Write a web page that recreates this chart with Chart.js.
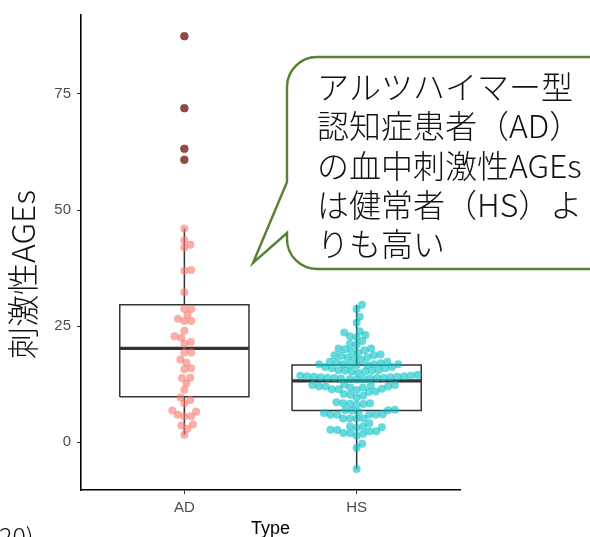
<!DOCTYPE html>
<html>
<head>
<meta charset="utf-8">
<script src="https://cdn.jsdelivr.net/npm/chart.js@4.4.1/dist/chart.umd.min.js"></script>
<style>
  html, body { margin: 0; background: #fff; }
  #wrap { width: 590px; height: 537px; position: relative; }
</style>
</head>
<body>
<div id="wrap"><canvas id="chart"></canvas></div>
<script>
const categories = ['AD', 'HS'];

// one value per dot
const adValues = [
  87.4, 71.9, 63.2, 60.8,
  46.0, 43.5, 42.5, 41.9, 37.1, 36.9, 32.3, 28.7, 28.7, 27.4, 26.6, 26.1, 26.1,
  24.0, 22.8, 22.5, 21.6, 21.2, 19.3, 19.3, 17.8, 17.1, 15.9, 15.7, 13.9, 13.8,
  12.7, 11.3, 9.6, 9.1, 8.4, 6.8, 6.6, 5.9, 5.6, 5.6, 3.8, 3.6, 2.9, 1.6
];
const hsValues = [
  29.6, 28.7, 27.0, 25.7, 23.9, 23.6, 23.1, 22.8, 22.6, 21.8, 21.2, 21.0,
  20.2, 20.2, 20.0, 19.8, 19.6, 19.2, 18.9, 18.7, 18.7, 18.6, 18.3, 18.2, 18.0,
  17.7, 17.3, 17.3, 17.2, 17.0, 16.8, 16.8, 16.8, 16.8, 16.6, 16.6, 16.6,
  16.2, 16.2, 15.9, 15.9, 15.5, 15.5, 15.4, 15.4, 15.2, 15.2, 14.9,
  14.5, 14.3, 14.3, 14.2, 14.2, 14.1, 14.1, 14.0, 14.0, 13.9, 13.9, 13.8, 13.8,
  13.7, 13.7, 13.6, 13.6, 13.5,
  12.4, 12.0, 11.4,
  12.3, 12.0, 11.75, 11.5, 11.25, 10.8, 10.0, 9.6, 10.4, 10.2, 10.9, 11.4, 11.75, 12.0, 12.2, 12.3,
  8.4, 8.2, 8.05, 8.6, 8.3, 8.4,
  6.9, 6.8, 6.9, 7.0, 6.3, 5.9, 5.9, 5.1, 5.1, 4.1, 5.1, 5.1, 5.9, 5.9, 6.0, 6.5,
  3.4, 3.1, 2.6, 2.0, 1.8, 1.4, 1.9, 2.35, 2.35, 2.7, 3.2, 3.4,
  -0.35, -1.2, -5.8
];

// box statistics as drawn
const boxQ1 = [9.8, 6.8];
const boxMedian = [20.2, 13.2];
const boxQ3 = [29.6, 16.6];
const whiskerLow = [1.6, -5.8];
const whiskerHigh = [46.0, 29.6];

const yTicks = [0, 25, 50, 75];
const yTitle = '刺激性AGEs';
const xTitle = 'Type';
const calloutLines = ['アルツハイマー型', '認知症患者（AD）', 'の血中刺激性AGEs', 'は健常者（HS）よ', 'りも高い'];
const cornerText = '20)';

const pointColors = ['rgba(248,118,109,0.6)', 'rgba(0,191,196,0.6)'];
const lineColor = '#333333';
const boxHalf = 0.375;
const dotRadius = 4;
const swarmGap = 6.8;
const jpFont = '"Noto Sans CJK JP", "Noto Sans", sans-serif';

function seg(points, width){
  return { type:'scatter', data:points, showLine:true, borderColor:lineColor, borderWidth:width,
    pointRadius:0, pointHoverRadius:0, order:2, borderJoinStyle:'miter', borderCapStyle:'butt' };
}

const datasets = [];
categories.forEach((c, i) => {
  const x = i + 1;
  datasets.push(seg([
    {x:x-boxHalf, y:boxQ1[i]}, {x:x+boxHalf, y:boxQ1[i]}, {x:x+boxHalf, y:boxQ3[i]},
    {x:x-boxHalf, y:boxQ3[i]}, {x:x-boxHalf, y:boxQ1[i]}
  ], 1.5));
  datasets.push(seg([{x:x-boxHalf, y:boxMedian[i]}, {x:x+boxHalf, y:boxMedian[i]}], 3.2));
  datasets.push(seg([{x, y:boxQ3[i]}, {x, y:whiskerHigh[i]}], 1.5));
  datasets.push(seg([{x, y:boxQ1[i]}, {x, y:whiskerLow[i]}], 1.5));
});

const groups = [adValues, hsValues];
groups.forEach((vals, i) => {
  const outl = vals.filter(v => v > whiskerHigh[i] || v < whiskerLow[i]).map(v => ({x:i+1, y:v}));
  datasets.push({ type:'scatter', data:outl, pointRadius:dotRadius, pointBorderWidth:0,
    pointBackgroundColor:'#000', order:1 });
});
const swarmStart = datasets.length;
groups.forEach((vals, i) => {
  datasets.push({ type:'scatter', data:vals.map(v => ({x:i+1, y:v})), pointRadius:dotRadius,
    pointBorderWidth:0, pointBackgroundColor:pointColors[i], order:0 });
});

// beeswarm "swarm" placement, ascending priority, in pixels
function swarm(vals, pys, gap){
  const idx = vals.map((v, i) => i).sort((a, b) => vals[a] - vals[b]);
  const placed = [];
  const out = new Array(vals.length);
  idx.forEach(i => {
    const y = pys[i];
    const near = placed.filter(p => Math.abs(p.y - y) < gap);
    const cands = [0];
    near.forEach(p => {
      const dx = Math.sqrt(gap*gap - (p.y - y)*(p.y - y));
      cands.push(p.x + dx, p.x - dx);
    });
    const ok = cands.filter(x => near.every(p => (p.x-x)*(p.x-x) + (p.y-y)*(p.y-y) >= gap*gap - 1e-6));
    let best = ok[0];
    ok.forEach(x => { if (Math.abs(x) < Math.abs(best) - 1e-9) best = x; });
    placed.push({x:best, y});
    out[i] = best;
  });
  return out;
}

const annotations = {
  id: 'annotations',
  afterDraw(chart){
    const ctx = chart.ctx, a = chart.chartArea;
    ctx.save();
    // y title
    ctx.save();
    ctx.translate(23, (a.top + a.bottom)/2 + 22);
    ctx.rotate(-Math.PI/2);
    ctx.font = '300 32px ' + jpFont;
    ctx.fillStyle = '#111';
    ctx.textAlign = 'center';
    ctx.textBaseline = 'middle';
    ctx.fillText(yTitle, 0, 0);
    ctx.restore();
    // x title
    ctx.font = '18px "Liberation Sans", Arial, sans-serif';
    ctx.fillStyle = '#000';
    ctx.textAlign = 'center';
    ctx.textBaseline = 'alphabetic';
    ctx.fillText(xTitle, (a.left + a.right)/2, a.bottom + 44);
    // cut-off corner text
    ctx.font = '300 25px ' + jpFont;
    ctx.fillStyle = '#111';
    ctx.textAlign = 'left';
    ctx.fillText(cornerText, -1, 546);
    // speech bubble
    const L = 287, T = 57, B = 269, R = 640, r = 30;
    ctx.beginPath();
    ctx.moveTo(R, T);
    ctx.lineTo(L + r, T);
    ctx.arcTo(L, T, L, T + r, r);
    ctx.lineTo(L, 182);
    ctx.lineTo(253, 263);
    ctx.lineTo(L, 233);
    ctx.lineTo(L, B - r);
    ctx.arcTo(L, B, L + r, B, r);
    ctx.lineTo(R, B);
    ctx.closePath();
    ctx.fillStyle = '#fff';
    ctx.fill();
    ctx.strokeStyle = '#548235';
    ctx.lineWidth = 2.4;
    ctx.lineJoin = 'miter';
    ctx.stroke();
    ctx.font = '300 32px ' + jpFont;
    ctx.fillStyle = '#111';
    ctx.textBaseline = 'middle';
    calloutLines.forEach((t, k) => ctx.fillText(t, 317, 87 + k*39.3));
    ctx.restore();
  }
};

const chart = new Chart(document.getElementById('chart'), {
  type: 'scatter',
  data: { datasets },
  options: {
    responsive: true,
    maintainAspectRatio: false,
    animation: false,
    layout: { padding: { top: 12, right: 130, left: 0, bottom: 0 } },
    plugins: { legend: { display: false }, tooltip: { enabled: false } },
    scales: {
      x: {
        type: 'linear', min: 0.4, max: 2.6,
        afterBuildTicks: s => { s.ticks = categories.map((c, i) => ({ value: i + 1 })); },
        afterFit: s => { s.height = 47; },
        grid: { drawOnChartArea: false, drawTicks: true, tickLength: 4, color: lineColor },
        border: { display: true, color: '#000', width: 1.6 },
        ticks: { callback: v => categories[v - 1], color: '#4D4D4D', padding: 5,
          font: { family: '"Liberation Sans", Arial, sans-serif', size: 15 }, maxRotation: 0 }
      },
      y: {
        type: 'linear', min: -10.3, max: 92,
        afterBuildTicks: s => { s.ticks = yTicks.map(v => ({ value: v })); },
        afterFit: s => { s.width = 81; },
        grid: { drawOnChartArea: false, drawTicks: true, tickLength: 4, color: lineColor },
        border: { display: true, color: '#000', width: 1.6 },
        ticks: { color: '#4D4D4D', padding: 6,
          font: { family: '"Liberation Sans", Arial, sans-serif', size: 15 } }
      }
    }
  },
  plugins: [annotations]
});

const xs = chart.scales.x, ys = chart.scales.y;
const pxPerX = xs.getPixelForValue(1) - xs.getPixelForValue(0);
groups.forEach((vals, i) => {
  const offs = swarm(vals, vals.map(v => ys.getPixelForValue(v)), swarmGap);
  chart.data.datasets[swarmStart + i].data = vals.map((v, k) => ({ x: i + 1 + offs[k]/pxPerX, y: v }));
});
chart.update('none');
</script>
</body>
</html>
